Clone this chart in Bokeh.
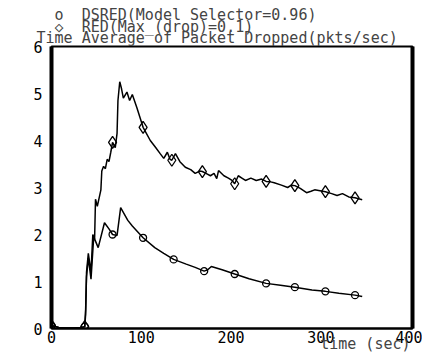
from bokeh.plotting import figure
from bokeh.models import Range1d, FixedTicker, LinearAxis, Title
from bokeh.embed import file_html
from bokeh.resources import INLINE

# ---- data ----
dsred_t = [0, 3, 8, 15, 25, 33, 37, 38, 39, 41, 44, 47, 52, 59, 64, 68, 73, 77,
           85, 90, 102, 115, 125, 136, 150, 160, 170, 174, 178, 190, 204, 220,
           239, 255, 271, 290, 305, 320, 338, 346]
dsred_v = [0.06, 0.05, 0.02, 0.01, 0.01, 0.02, 0.04, 0.4, 1.1, 1.5, 1.05, 1.95,
           1.72, 2.25, 2.12, 2.0, 1.98, 2.57, 2.3, 2.18, 1.93, 1.72, 1.6, 1.47,
           1.37, 1.3, 1.22, 1.25, 1.32, 1.25, 1.16, 1.06, 0.96, 0.92, 0.88,
           0.82, 0.79, 0.75, 0.71, 0.68]
dsred_mark_t = [0, 37, 68, 102, 136, 170, 204, 239, 271, 305, 338]
dsred_mark_v = [0.06, 0.04, 2.0, 1.93, 1.47, 1.22, 1.16, 0.96, 0.88, 0.79, 0.71]

red_t = [0, 3, 8, 15, 25, 33, 37, 38, 39, 41, 44, 46, 48, 49, 51, 55, 56, 58,
         60, 62, 64, 66, 68, 71, 73, 74, 76, 78, 80, 84, 87, 90, 95, 102, 110,
         116, 121, 125, 129, 132, 134, 138, 143, 149, 155, 160, 165, 168, 172,
         177, 181, 184, 186, 192, 197, 201, 204, 208, 212, 216, 222, 228, 234,
         239, 244, 248, 256, 263, 267, 271, 277, 284, 289, 293, 299, 305, 312,
         318, 324, 331, 338, 346]
red_v = [0.06, 0.05, 0.02, 0.01, 0.01, 0.02, 0.04, 0.3, 1.2, 1.6, 1.2, 2.0,
         1.9, 2.75, 2.6, 2.95, 3.35, 3.45, 3.4, 3.6, 3.55, 3.75, 3.96, 3.85,
         4.15, 4.85, 5.25, 5.1, 4.9, 5.03, 4.85, 4.98, 4.7, 4.28, 4.0, 3.85,
         3.72, 3.62, 3.75, 3.6, 3.58, 3.72, 3.55, 3.43, 3.38, 3.3, 3.35, 3.34,
         3.3, 3.25, 3.3, 3.19, 3.36, 3.25, 3.2, 3.15, 3.08, 3.25, 3.2, 3.15,
         3.2, 3.15, 3.18, 3.13, 3.12, 3.1, 3.05, 3.0, 3.05, 3.04, 2.98, 2.89,
         2.92, 2.95, 2.93, 2.91, 2.87, 2.83, 2.87, 2.8, 2.78, 2.74]
red_mark_t = [0, 37, 68, 102, 134, 168, 204, 239, 271, 305, 338]
red_mark_v = [0.06, 0.04, 3.96, 4.28, 3.58, 3.34, 3.08, 3.13, 3.04, 2.91, 2.78]

x_ticks = [0, 100, 200, 300, 400]
y_ticks = [0, 1, 2, 3, 4, 5, 6]

title_text = "Time Average of Packet Dropped(pkts/sec)"
dsred_label = "DSRED(Model Selector=0.96)"
red_label = "RED(Max_(drop)=0.1)"
x_label = "time (sec)"

FONT = "DejaVu Sans Mono"
NB = "\u00a0"

p = figure(width=422, height=356, output_backend="svg", toolbar_location=None,
           x_range=Range1d(0, 402), y_range=Range1d(0, 6),
           min_border_left=51, min_border_right=10, min_border_top=46,
           min_border_bottom=28, x_axis_location=None, y_axis_location=None)
p.grid.visible = False
p.outline_line_color = "black"
p.outline_line_width = 2
p.background_fill_color = "white"
p.border_fill_color = "white"

xa = LinearAxis(ticker=FixedTicker(ticks=x_ticks))
ya = LinearAxis(ticker=FixedTicker(ticks=y_ticks))
yr = LinearAxis(ticker=FixedTicker(ticks=[]), major_label_text_font_size="0px")
for ax in (xa, ya, yr):
    ax.major_tick_line_color = None
    ax.minor_tick_line_color = None
    ax.axis_line_color = "black"
    ax.major_label_text_font = FONT
    ax.major_label_text_font_size = "15px"
    ax.major_label_text_color = "black"
    ax.major_label_standoff = 3
xa.major_label_standoff = -4
xa.axis_line_width = 2
ya.axis_line_width = 4
yr.axis_line_width = 4
ya.major_label_orientation = "horizontal"
p.add_layout(xa, "below")
p.add_layout(ya, "left")
p.add_layout(yr, "right")

p.line(red_t, red_v, line_color="black", line_width=1.5)
p.line(dsred_t, dsred_v, line_color="black", line_width=1.5)
p.scatter(red_mark_t, red_mark_v, marker="diamond", size=12,
          fill_color="white", fill_alpha=0, line_color="black", line_width=1.3)
p.scatter(dsred_mark_t, dsred_mark_v, marker="circle", size=7,
          fill_color="white", fill_alpha=0, line_color="black", line_width=1.3)

# legend lines and chart title, stacked above the frame
top_text = (NB * 2 + "o" + NB * 2 + dsred_label + "\n" +
            NB * 2 + "\u25c7" + NB * 2 + red_label + "\n" + title_text)
p.title.text = top_text
p.title.text_font = FONT
p.title.text_font_size = "15px"
p.title.text_font_style = "normal"
p.title.text_line_height = 0.66
p.title.align = "left"
p.title.offset = -15
p.title.standoff = -2

p.add_layout(Title(text=x_label, text_font=FONT, text_font_size="15px",
                   text_font_style="normal", align="right", standoff=-22,
                   vertical_align="top", offset=2), "below")

open("out.html", "w").write(file_html(p, INLINE))
